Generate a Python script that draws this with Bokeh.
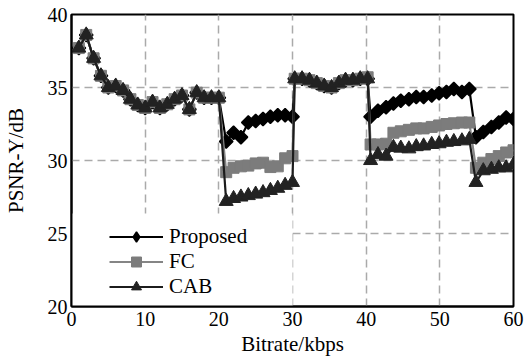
import numpy as np
from bokeh.plotting import figure
from bokeh.models import BoxAnnotation, FixedTicker, Legend, LegendItem
from bokeh.embed import file_html
from bokeh.resources import INLINE

# ---- data ----
bitrate_kbps = [
    1, 2, 3, 4, 5, 6, 7, 8, 9, 10, 11, 12, 13, 14, 15, 16, 17, 18, 19, 20,
    21, 22, 23, 24, 25, 26, 27, 28, 29, 30,
    30.3, 31.3, 32.3, 33.3, 34.3, 35.3, 36.3, 37.2, 38.2, 39.2, 40.2,
    40.6, 41.6, 42.7, 43.7, 44.7, 45.8, 46.8, 47.8, 48.9, 49.9, 50.9, 51.9, 53.0, 54.0,
    54.9, 55.9, 57.0, 58.0, 59.0, 60.0,
]
psnr_proposed = [
    37.7, 38.6, 37.0, 35.8, 35.0, 35.1, 34.8, 34.2, 33.8, 33.6, 34.0, 33.6, 33.85, 34.2, 34.45, 33.5, 34.65, 34.3, 34.3, 34.3,
    31.3, 31.9, 31.6, 32.6, 32.7, 32.85, 33.0, 33.1, 33.1, 33.0,
    35.6, 35.6, 35.5, 35.3, 35.1, 35.0, 35.3, 35.5, 35.5, 35.6, 35.6,
    33.0, 33.4, 33.65, 33.9, 34.1, 34.2, 34.35, 34.35, 34.45, 34.6, 34.7, 34.9, 34.7, 34.9,
    31.6, 31.95, 32.3, 32.6, 32.95, 32.85,
]
psnr_fc = [
    37.7, 38.6, 37.0, 35.8, 35.0, 35.1, 34.8, 34.2, 33.8, 33.6, 34.0, 33.6, 33.85, 34.2, 34.45, 33.5, 34.65, 34.3, 34.3, 34.3,
    29.2, 29.5, 29.6, 29.65, 29.8, 29.85, 29.55, 29.6, 30.15, 30.3,
    35.6, 35.6, 35.5, 35.3, 35.1, 35.0, 35.3, 35.5, 35.5, 35.6, 35.7,
    31.1, 31.1, 31.15, 31.9, 32.0, 32.1, 32.2, 32.2, 32.3, 32.4, 32.5, 32.55, 32.6, 32.6,
    29.5, 29.85, 30.1, 30.3, 30.55, 30.7,
]
psnr_cab = [
    37.7, 38.6, 37.0, 35.8, 35.0, 35.1, 34.8, 34.2, 33.8, 33.6, 34.0, 33.6, 33.85, 34.2, 34.45, 33.5, 34.65, 34.3, 34.3, 34.3,
    27.2, 27.4, 27.5, 27.6, 27.7, 27.8, 27.95, 28.1, 28.3, 28.5,
    35.6, 35.6, 35.5, 35.3, 35.1, 35.0, 35.3, 35.5, 35.5, 35.6, 35.6,
    30.0, 30.4, 30.3, 30.9, 30.85, 30.8, 30.95, 31.0, 31.1, 31.15, 31.25, 31.3, 31.35, 31.45,
    28.5, 29.3, 29.4, 29.5, 29.5, 29.7,
]
series_labels = ["Proposed", "FC", "CAB"]
x_ticks = [0, 10, 20, 30, 40, 50, 60]
y_ticks = [20, 25, 30, 35, 40]

FONT = "Liberation Serif"

p = figure(width=525, height=359, x_range=(0, 60), y_range=(20, 40),
           output_backend="svg", toolbar_location=None,
           min_border_left=71, min_border_right=12, min_border_top=14, min_border_bottom=53)
p.background_fill_color = "white"
p.border_fill_color = "white"
p.outline_line_color = "black"
p.outline_line_width = 2

p.xaxis.ticker = FixedTicker(ticks=x_ticks)
p.yaxis.ticker = FixedTicker(ticks=y_ticks)
p.xgrid.ticker = FixedTicker(ticks=x_ticks)
p.ygrid.ticker = FixedTicker(ticks=y_ticks)
p.grid.grid_line_color = "#aaaaaa"
p.grid.grid_line_dash = "8 5"
p.grid.grid_line_width = 1.5

for ax in (p.xaxis, p.yaxis):
    ax.axis_line_color = "black"
    ax.axis_line_width = 2
    ax.major_tick_in = 0
    ax.major_tick_out = 0
    ax.major_tick_line_color = None
    ax.minor_tick_line_color = None
    ax.major_label_text_font = FONT
    ax.major_label_text_font_size = "20px"
    ax.major_label_text_color = "black"
    ax.axis_label_text_font = FONT
    ax.axis_label_text_font_size = "21px"
    ax.axis_label_text_font_style = "normal"
    ax.axis_label_text_color = "black"

p.xaxis.axis_label = "Bitrate/kbps"
p.yaxis.axis_label = "PSNR-Y/dB"
p.xaxis.major_label_standoff = 5
p.xaxis.axis_label_standoff = 3
p.yaxis.major_label_standoff = 4
p.yaxis.axis_label_standoff = 17

# white area behind the legend (hides grid there)
p.add_layout(BoxAnnotation(left=0, right=30, bottom=20, top=26.37,
                           fill_color="white", fill_alpha=1.0, line_color=None,
                           level="underlay"))

pl = p.line(bitrate_kbps, psnr_proposed, line_color="black", line_width=2.2)
pm = p.scatter(bitrate_kbps, psnr_proposed, marker="square", angle=np.pi / 4, size=9.5,
               fill_color="black", line_color="black", line_width=1.5)
pd = p.scatter(bitrate_kbps, psnr_proposed, marker="diamond", size=12,
               fill_color="black", line_color="black", line_width=1.5, visible=False)
fl = p.line(bitrate_kbps, psnr_fc, line_color="#858585", line_width=2.2)
fm = p.scatter(bitrate_kbps, psnr_fc, marker="square", size=11,
               fill_color="#7c7c7c", line_color="#7c7c7c", line_width=1)
cl = p.line(bitrate_kbps, psnr_cab, line_color="#1c1c1c", line_width=2.2)
cm = p.scatter(bitrate_kbps, psnr_cab, marker="triangle", size=14,
               fill_color="#222222", line_color="#222222", line_width=1)

legend = Legend(items=[
    LegendItem(label=series_labels[0], renderers=[pl, pd]),
    LegendItem(label=series_labels[1], renderers=[fl, fm]),
    LegendItem(label=series_labels[2], renderers=[cl, cm]),
], location=(38, 7))
legend.background_fill_alpha = 0
legend.border_line_color = None
legend.padding = 0
legend.margin = 0
legend.glyph_width = 54
legend.glyph_height = 25
legend.spacing = 0
legend.label_standoff = 6
legend.label_text_font = FONT
legend.label_text_font_size = "21px"
legend.label_text_color = "black"
p.add_layout(legend)

open("out.html", "w").write(file_html(p, INLINE))
